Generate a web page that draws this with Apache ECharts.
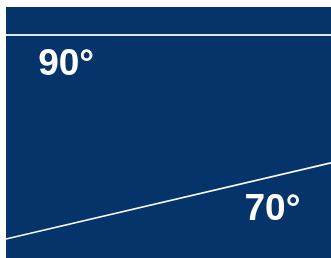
<!DOCTYPE html>
<html><head><meta charset="utf-8">
<script src="https://cdn.jsdelivr.net/npm/echarts@6/dist/echarts.min.js"></script>
<style>html,body{margin:0;padding:0;background:#fff}#c{width:331px;height:258px}</style>
</head><body><div id="c"></div>
<script>
var xs = [0, 1];
var line90 = [90, 90];
var line70 = [16.8, 44.1];
var labelNames = ['90°', '70°'];
var labelX = [0.185, 0.82];
var labelY = [79.4, 27.2];

var chart = echarts.init(document.getElementById('c'));
chart.setOption({
  animation: false,
  backgroundColor: '#ffffff',
  grid: {left: 6, top: 7, right: 0, bottom: 0, show: true, backgroundColor: '#04346A', borderWidth: 0},
  xAxis: {type: 'value', min: 0, max: 1, show: false},
  yAxis: {type: 'value', min: 10, max: 100, show: false},
  series: [
    {type: 'line', data: xs.map(function(x,i){return [x, line90[i]];}), symbol: 'none',
     lineStyle: {color: '#dfe8f2', width: 2}},
    {type: 'line', data: xs.map(function(x,i){return [x, line70[i]];}), symbol: 'none',
     lineStyle: {color: '#ffffff', width: 1.6}},
    {type: 'scatter', symbolSize: 0, itemStyle: {opacity: 1},
     data: labelNames.map(function(n,i){return {name: n, value: [labelX[i], labelY[i]]};}),
     label: {show: true, position: 'inside', formatter: '{b}', color: '#ffffff',
       fontFamily: 'Liberation Sans', fontWeight: 'bold', fontSize: 37}}
  ]
});
</script></body></html>
